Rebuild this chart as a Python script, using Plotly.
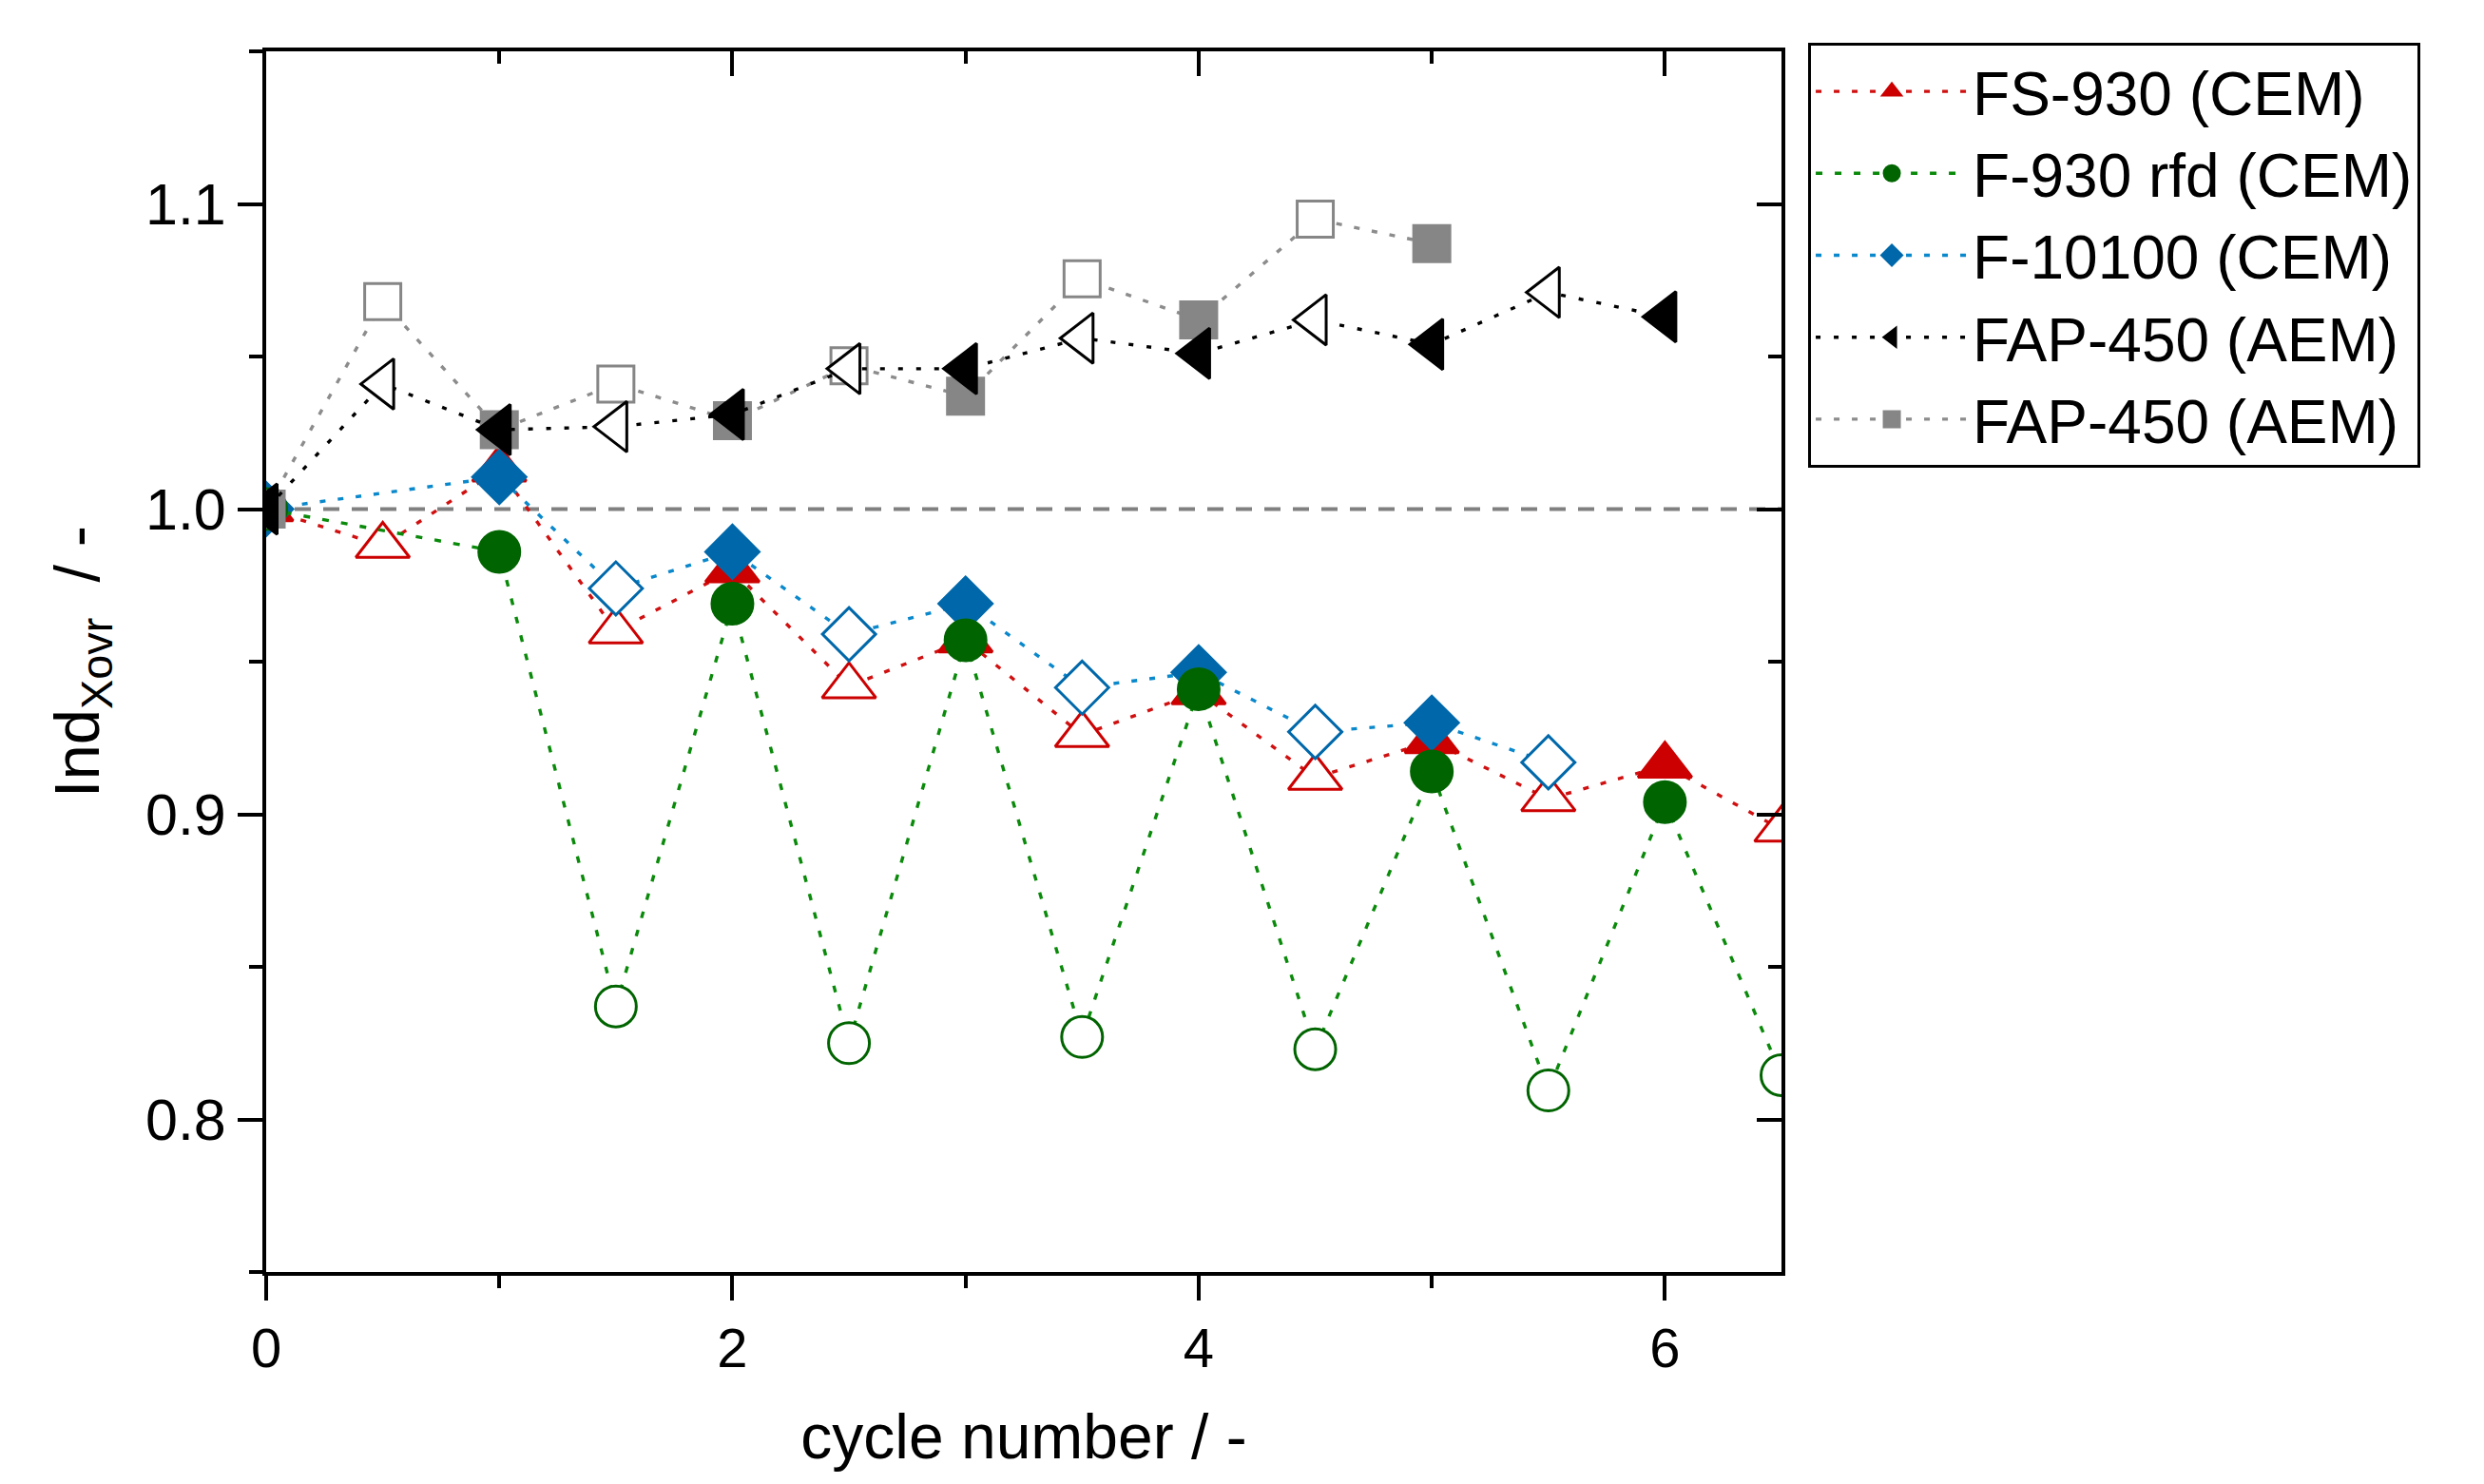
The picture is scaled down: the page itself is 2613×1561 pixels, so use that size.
import plotly.graph_objects as go

# ---------------- data ----------------
cycles_fs930 = [0, 0.5, 1, 1.5, 2, 2.5, 3, 3.5, 4, 4.5, 5, 5.5, 6, 6.5]
fs930 = [1.000, 0.988, 1.013, 0.960, 0.980, 0.942, 0.957, 0.926, 0.940, 0.912, 0.924, 0.905, 0.916, 0.895]

cycles_f930rfd = [0, 1, 1.5, 2, 2.5, 3, 3.5, 4, 4.5, 5, 5.5, 6, 6.5]
f930rfd = [1.000, 0.986, 0.837, 0.969, 0.825, 0.957, 0.827, 0.941, 0.823, 0.914, 0.8095, 0.904, 0.8145]

cycles_f10100 = [0, 1, 1.5, 2, 2.5, 3, 3.5, 4, 4.5, 5, 5.5]
f10100 = [1.000, 1.0105, 0.974, 0.986, 0.959, 0.969, 0.9415, 0.9465, 0.927, 0.930, 0.917]

cycles_fap450_a = [0, 0.5, 1, 1.5, 2, 2.5, 3, 3.5, 4, 4.5, 5, 5.5, 6]
fap450_a = [1.000, 1.041, 1.026, 1.027, 1.031, 1.046, 1.046, 1.056, 1.051, 1.062, 1.054, 1.071, 1.063]

cycles_fap450_b = [0, 0.5, 1, 1.5, 2, 2.5, 3, 3.5, 4, 4.5, 5]
fap450_b = [1.000, 1.068, 1.026, 1.041, 1.029, 1.047, 1.037, 1.0755, 1.062, 1.095, 1.087]

series_names = ["FS-930 (CEM)", "F-930 rfd (CEM)", "F-10100 (CEM)", "FAP-450 (AEM)", "FAP-450 (AEM)"]
reference_level = 1.0

x_range = [0, 6.5]
y_range = [0.75, 1.15]

FONT = "Arial, Liberation Sans, sans-serif"

# style per series: (x, y, name, marker colour, line colour, symbol, size, dash, legendrank)
styles = [
    (cycles_fs930, fs930, series_names[0], "#CC0000", "#D01010", "triangle-up", 49, "6px,13px", 1),
    (cycles_f10100, f10100, series_names[2], "#0068AA", "#0A88CC", "diamond", 43, "6px,13px", 3),
    (cycles_f930rfd, f930rfd, series_names[1], "#006400", "#0A8A0A", "circle", 43, "7px,13px", 2),
    (cycles_fap450_b, fap450_b, series_names[4], "#868686", "#8C8C8C", "square", 38, "6px,13px", 5),
    (cycles_fap450_a, fap450_a, series_names[3], "#000000", "#000000", "triangle-left", 46, "5px,14px", 4),
]

fig = go.Figure()

for xs, ys, name, mcol, lcol, sym, size, dash, rank in styles:
    fills = [mcol if (c % 1 == 0) else "white" for c in xs]
    fig.add_trace(go.Scatter(
        x=xs, y=ys, name=name, mode="lines+markers",
        line=dict(color=lcol, width=3.4, dash=dash),
        marker=dict(symbol=sym, size=size, color=fills,
                    line=dict(color=mcol, width=3)),
        legendrank=rank,
    ))

# invisible trace to activate mirror axes (inward ticks on top / right)
fig.add_trace(go.Scatter(x=[], y=[], xaxis="x2", yaxis="y2", showlegend=False, hoverinfo="skip"))

fig.add_hline(y=reference_level, line=dict(color="#808080", width=4, dash="17px,13px"), layer="below")

axis_common = dict(showgrid=False, zeroline=False, linecolor="black", linewidth=4)

fig.update_layout(
    width=2613, height=1561,
    margin=dict(l=272, r=747, t=46, b=231),
    plot_bgcolor="white", paper_bgcolor="white",
    font=dict(family=FONT, color="black"),
    xaxis=dict(
        range=x_range, tick0=0, dtick=2,
        ticks="outside", ticklen=26, tickwidth=4, tickcolor="black",
        minor=dict(dtick=1, ticks="outside", ticklen=13, tickwidth=4, tickcolor="black"),
        tickfont=dict(size=58, family=FONT),
        title=dict(text="cycle number / -", font=dict(size=66, family=FONT), standoff=40),
        showline=True, mirror=True, **axis_common,
    ),
    yaxis=dict(
        range=y_range, tick0=0.8, dtick=0.1, tickformat=".1f",
        ticks="outside", ticklen=26, tickwidth=4, tickcolor="black",
        minor=dict(dtick=0.05, ticks="outside", ticklen=14, tickwidth=4, tickcolor="black"),
        tickfont=dict(size=61, family=FONT),
        title=dict(text="Ind<sub>Xovr</sub>  / -", font=dict(size=67, family=FONT), standoff=28),
        showline=True, mirror=True, **axis_common,
    ),
    xaxis2=dict(
        overlaying="x", side="top", anchor="y2", range=x_range, tick0=0, dtick=2,
        ticks="inside", ticklen=26, tickwidth=4, tickcolor="black",
        minor=dict(dtick=1, ticks="inside", ticklen=13, tickwidth=4, tickcolor="black"),
        showticklabels=False, showline=False, showgrid=False, zeroline=False,
    ),
    yaxis2=dict(
        overlaying="y", side="right", anchor="x2", range=y_range, tick0=0.8, dtick=0.1,
        ticks="inside", ticklen=26, tickwidth=4, tickcolor="black",
        minor=dict(dtick=0.05, ticks="inside", ticklen=14, tickwidth=4, tickcolor="black"),
        showticklabels=False, showline=False, showgrid=False, zeroline=False,
    ),
    legend=dict(
        x=1.0176, y=1.007, xanchor="left", yanchor="top",
        bordercolor="black", borderwidth=3, bgcolor="white",
        font=dict(size=64, family=FONT, color="black"),
        itemwidth=160, tracegroupgap=0,
    ),
    showlegend=True,
)

fig.write_html("out.html")
